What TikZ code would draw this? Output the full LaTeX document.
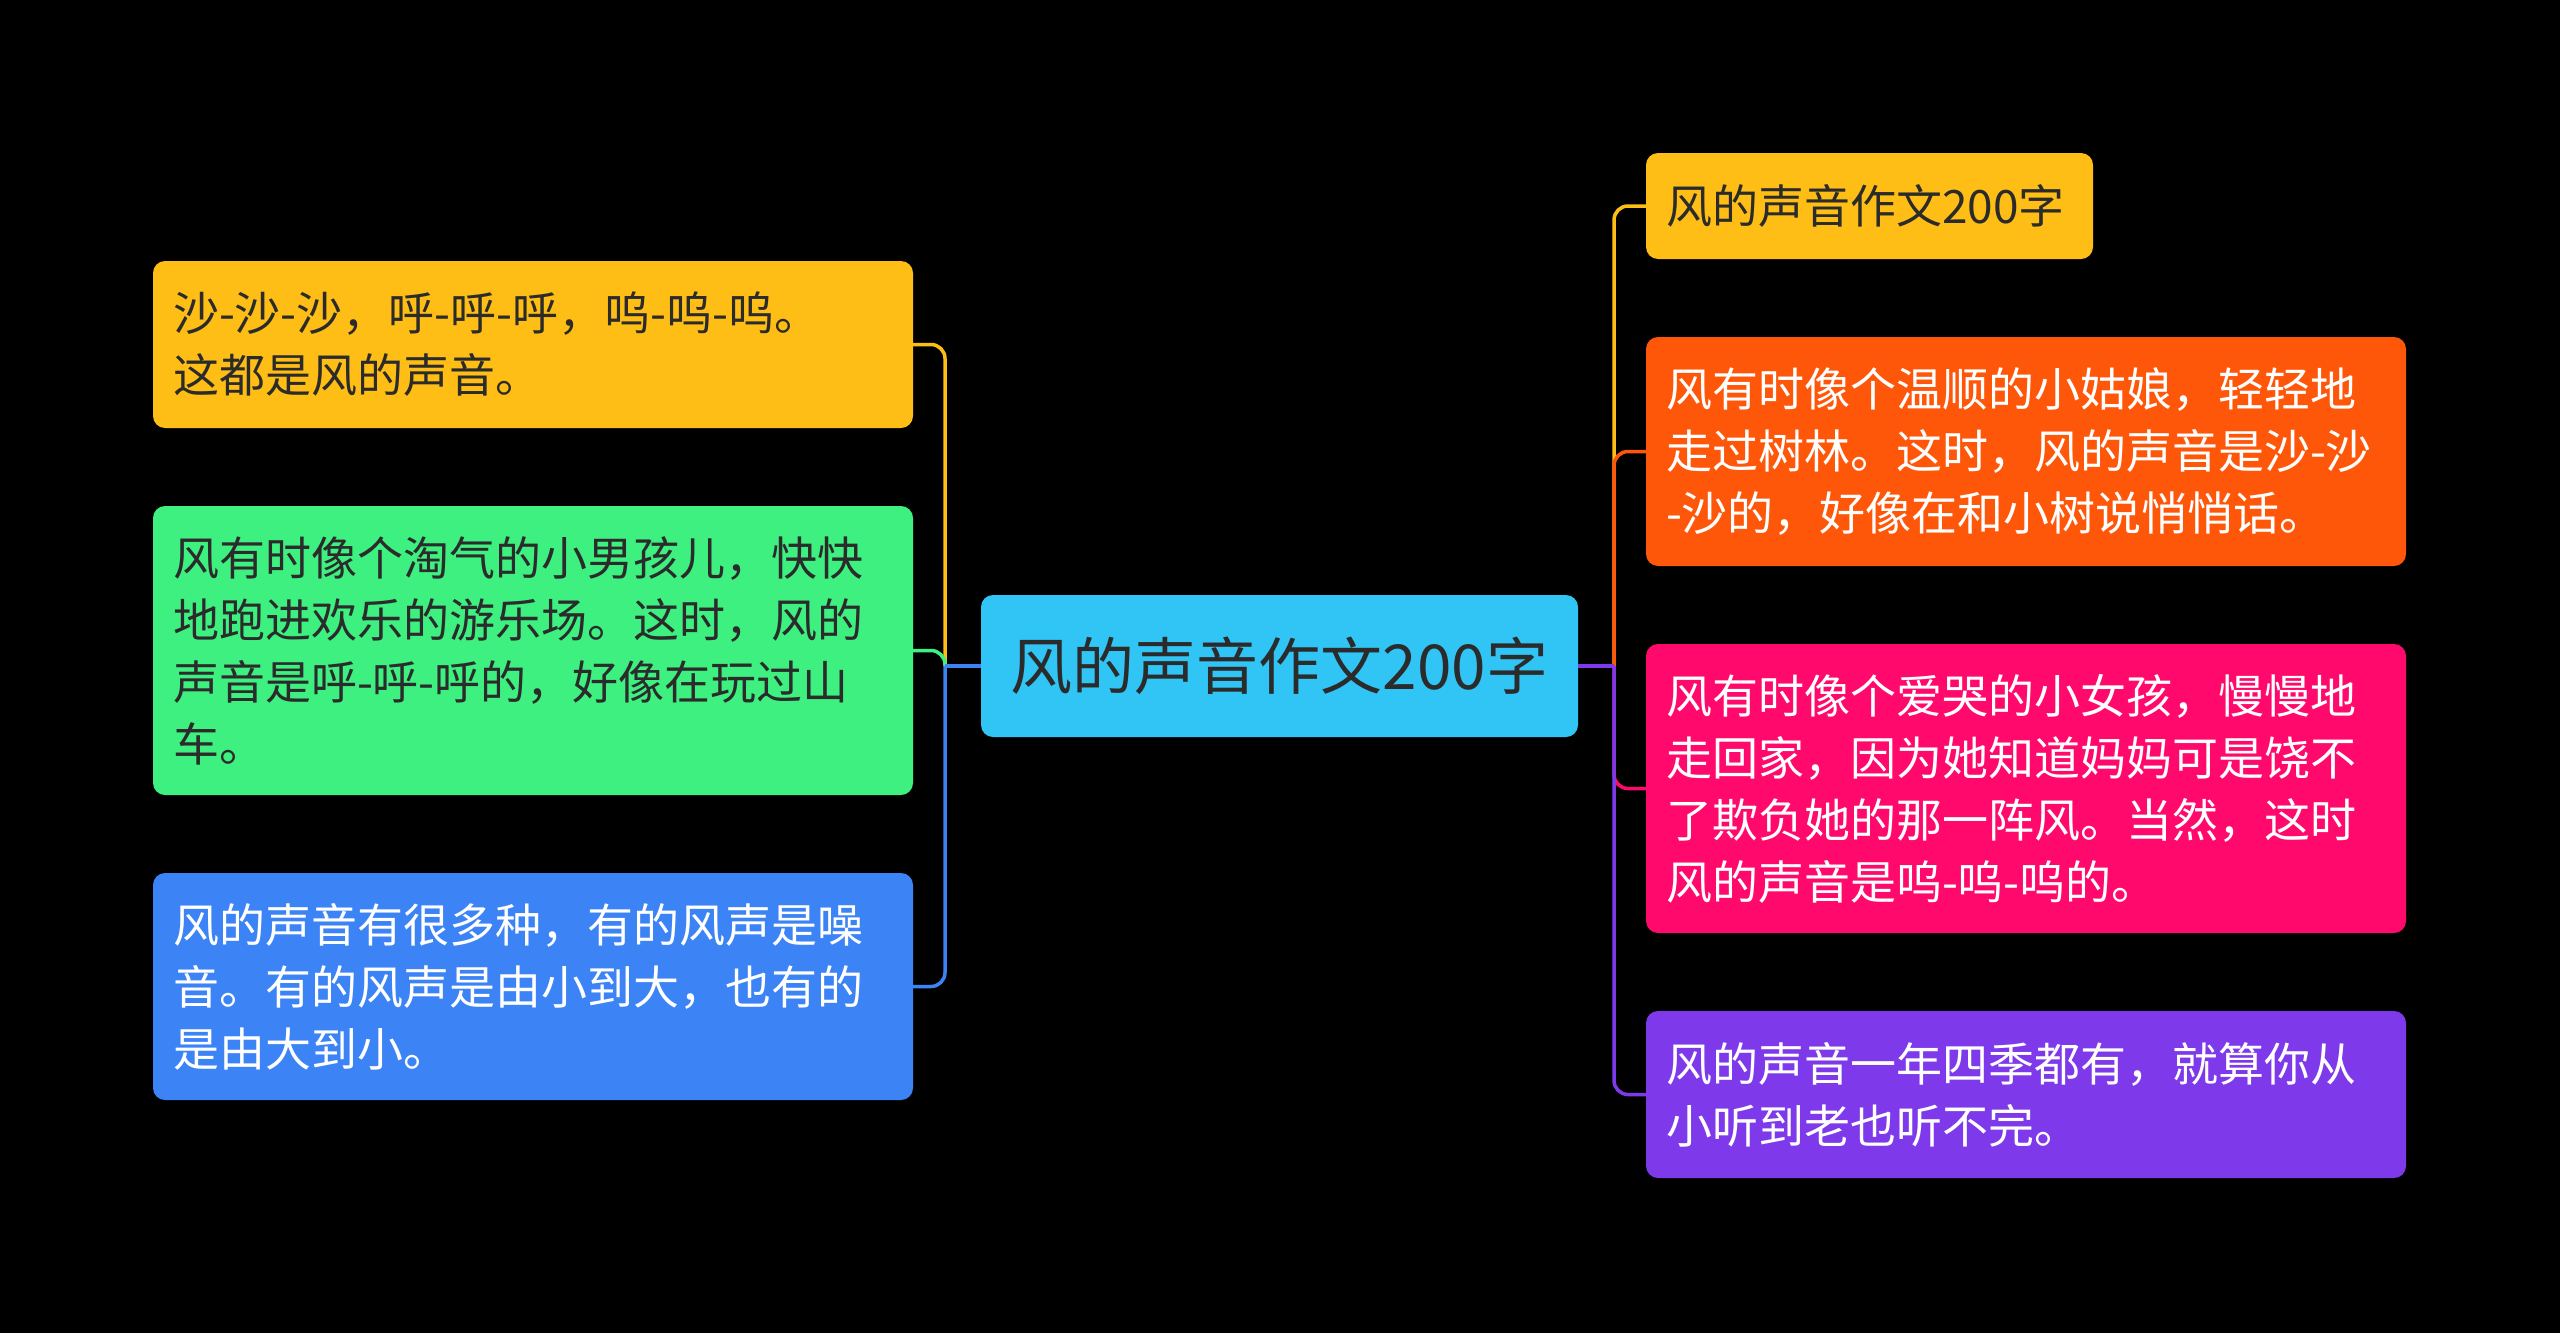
\documentclass[tikz,border=0pt]{standalone}
\usepackage{fontspec}
\newfontfamily\cjk{Noto Sans CJK SC}
\definecolor{cRoot}{HTML}{30C5F5}
\definecolor{cYel}{HTML}{FFBE15}
\definecolor{cGrn}{HTML}{3DF07F}
\definecolor{cBlu}{HTML}{3C83F6}
\definecolor{cOrg}{HTML}{FF5709}
\definecolor{cPnk}{HTML}{FF0A6C}
\definecolor{cPur}{HTML}{7E39EA}
\definecolor{cDark}{HTML}{2B2B2B}
\begin{document}
\begin{tikzpicture}[x=1pt,y=-1pt,
  box/.style={rounded corners=12pt, inner xsep=20pt, inner ysep=0pt, text width=720pt, align=left,
    font=\cjk\fontsize{46}{62}\selectfont},
  link/.style={line width=3.5pt, rounded corners=14pt}]
\fill[black] (0,0) rectangle (2560,1333);
\useasboundingbox (0,0) rectangle (2560,1333);

% root
\node[fill=cRoot, rounded corners=12pt, minimum width=597pt, minimum height=142pt, inner sep=0pt,
  text=cDark, font=\cjk\fontsize{62}{74}\selectfont] (root) at (1279.5,666) {风的声音作文200字};

% left children
\node[box, fill=cYel, text=cDark, minimum height=167pt] (l1) at (533,344.5)
  {沙-沙-沙，呼-呼-呼，呜-呜-呜。\\这都是风的声音。};
\node[box, fill=cGrn, text=cDark, minimum height=289pt] (l2) at (533,650.5)
  {风有时像个淘气的小男孩儿，快快\\地跑进欢乐的游乐场。这时，风的\\声音是呼-呼-呼的，好像在玩过山\\车。};
\node[box, fill=cBlu, text=white, minimum height=227pt] (l3) at (533,986.5)
  {风的声音有很多种，有的风声是噪\\音。有的风声是由小到大，也有的\\是由大到小。};

% right children
\node[box, fill=cYel, text=cDark, text width=407pt, minimum height=106pt] (r1) at (1869.5,206)
  {风的声音作文200字};
\node[box, fill=cOrg, text=white, minimum height=229pt] (r2) at (2026,451.5)
  {风有时像个温顺的小姑娘，轻轻地\\走过树林。这时，风的声音是沙-沙\\-沙的，好像在和小树说悄悄话。};
\node[box, fill=cPnk, text=white, minimum height=289pt] (r3) at (2026,788.5)
  {风有时像个爱哭的小女孩，慢慢地\\走回家，因为她知道妈妈可是饶不\\了欺负她的那一阵风。当然，这时\\风的声音是呜-呜-呜的。};
\node[box, fill=cPur, text=white, minimum height=167pt] (r4) at (2026,1094.5)
  {风的声音一年四季都有，就算你从\\小听到老也听不完。};

% spines
\coordinate (sl) at (945,666);
\coordinate (sr) at (1614,666);

\draw[link, cYel] (sl) |- (l1.east);
\draw[link, cGrn] (sl) |- (l2.east);
\draw[link, cBlu] (sl) |- (l3.east);
\draw[link, cBlu] (root.west) -- (sl);

\draw[link, cYel] (sr) |- (r1.west);
\draw[link, cOrg] (sr) |- (r2.west);
\draw[link, cPnk] (sr) |- (r3.west);
\draw[link, cPur] (sr) |- (r4.west);
\draw[link, cPur] (root.east) -- (sr);
\end{tikzpicture}
\end{document}
